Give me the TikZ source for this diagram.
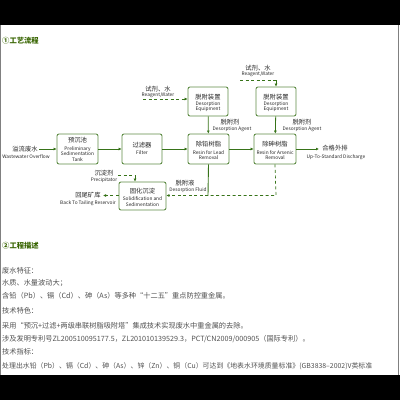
\documentclass[tikz,border=0pt]{standalone}
\usepackage{fontspec}
\setmainfont{Noto Sans CJK SC}
\usetikzlibrary{arrows.meta}
\definecolor{gbox}{RGB}{95,140,70}
\definecolor{garr}{RGB}{55,115,25}
\definecolor{ghead}{RGB}{55,100,0}
\definecolor{txt}{RGB}{80,80,80}
\begin{document}
\begin{tikzpicture}[x=1pt,y=-1pt,
  box/.style={draw=gbox, line width=0.9pt, rounded corners=2pt, fill=white, inner sep=0pt},
  zh/.style={font=\fontsize{6.3}{7}\selectfont, inner sep=0pt, text=black!85},
  en/.style={font=\fontsize{4.8}{5.6}\selectfont, inner sep=0pt, align=center, text=black!85},
  arr/.style={draw=garr, line width=0.8pt, -{Latex[length=3pt,width=3pt]}},
  dsh/.style={draw=garr, line width=0.7pt, dash pattern=on 3pt off 2.5pt},
  darr/.style={dsh, -{Latex[length=3pt,width=3pt]}},
  body/.style={font=\fontsize{7.2}{8}\selectfont, text=txt, anchor=west, inner sep=0pt},
  head/.style={font=\fontsize{7.3}{8}\selectfont\bfseries, text=ghead, anchor=west, inner sep=0pt},
]
\useasboundingbox (0,0) rectangle (400,400);
% headers and body text
\node[head] (h1) at (2,41) {①工艺流程};
\node[head] (h2) at (2,246) {②工程描述};
\node[body] (b1) at (2,271) {废水特征：};
\node[body] (b2) at (2,283) {水质、水量波动大；};
\node[body] (b3) at (2,296) {含铅（Pb）、镉（Cd）、砷（As）等多种“十二五”重点防控重金属。};
\node[body] (b4) at (2,311) {技术特色：};
\node[body] (b5) at (2,326) {采用“预沉+过滤+两级串联树脂吸附塔”集成技术实现废水中重金属的去除。};
\node[body] (b6) at (2,339) {涉及发明专利号ZL200510095177.5，ZL201010139529.3，PCT/CN2009/000905（国际专利）。};
\node[body] (b7) at (2,352) {技术指标：};
\node[body, font=\fontsize{6.9}{8}\selectfont] (b8) at (2,366) {处理出水铅（Pb）、镉（Cd）、砷（As）、锌（Zn）、铜（Cu）可达到《地表水环境质量标准》(GB3838--2002)V类标准};
% frame
\fill[black] (0,0) rectangle (400,25);
\fill[black] (0,375) rectangle (400,400);
\draw[gray, line width=1pt] (0.5,25) -- (0.5,375);
\draw[gray, line width=1pt] (398.5,25) -- (398.5,375);

% boxes
\node[box, minimum width=41pt, minimum height=30pt] (prelim) at (77.5,149) {};
\node[box, minimum width=40pt, minimum height=30pt] (filter) at (142,149) {};
\node[box, minimum width=41pt, minimum height=30pt] (lead) at (208.5,149) {};
\node[box, minimum width=42pt, minimum height=30pt] (arsen) at (275,149) {};
\node[box, minimum width=47pt, minimum height=28pt] (solid) at (142.5,196) {};
\node[box, minimum width=40pt, minimum height=29pt] (des1) at (208,101.5) {};
\node[box, minimum width=40pt, minimum height=29pt] (des2) at (276,101.5) {};

% box texts
\node[zh] (tp1) at (77.5,140) {预沉池};
\node[en] (tp2) at (77.5,154) {Preliminary\\Sedimentation\\Tank};
\node[zh] (tf1) at (142,145) {过滤器};
\node[en] (tf2) at (142,153) {Filter};
\node[zh] (tl1) at (208.5,144) {除铅树脂};
\node[en] (tl2) at (208.5,155) {Resin for Lead\\Removal};
\node[zh] (ta1) at (275,144) {除砷树脂};
\node[en] (ta2) at (275,155) {Resin for Arsenic\\Removal};
\node[zh] (ts1) at (142.5,191) {固化沉淀};
\node[en] (ts2) at (142.5,201.5) {Solidification and\\Sedimentation};
\node[zh] (td1) at (208,97) {脱附装置};
\node[en] (td2) at (208,106.5) {Desorption\\Equipment};
\node[zh] (te1) at (276,97) {脱附装置};
\node[en] (te2) at (276,106.5) {Desorption\\Equipment};

% outside labels
\node[zh] (ww1) at (25,149) {溢流废水};
\node[en] (ww2) at (26,157) {Wastewater Overflow};
\node[zh] (ok1) at (335,148) {合格外排};
\node[en] (ok2) at (336,157) {Up-To-Standard Discharge};
\node[zh] (ra1) at (158,89) {试剂、水};
\node[en] (ra2) at (158,95) {Reagent,Water};
\node[zh] (rb1) at (258,68) {试剂、水};
\node[en] (rb2) at (258,74.5) {Reagent,Water};
\node[zh] (da1) at (230,122.5) {脱附剂};
\node[en] (da2) at (232,129.5) {Desorption Agent};
\node[zh] (db1) at (302,122.5) {脱附剂};
\node[en] (db2) at (302,129.5) {Desorption Agent};
\node[zh] (pr1) at (104,173) {沉淀剂};
\node[en] (pr2) at (104,180.5) {Precipitator};
\node[zh] (fl1) at (185,183) {脱附液};
\node[en] (fl2) at (188,190.5) {Desorption Fluid};
\node[zh] (bk1) at (88,195.5) {回尾矿库};
\node[en] (bk2) at (88,203.5) {Back To Tailing Reservoir};

% coordinates
\coordinate (wwe) at (39,149);
\coordinate (oke) at (319,149);
\coordinate (ras) at (143,99);
\coordinate (rbs) at (240,80);
\coordinate (prs) at (118,175);
\coordinate (prc) at (135,175);
\coordinate (jl) at (208,195.5);
\coordinate (ja) at (276,195.5);
\coordinate (bke) at (103,195.5);

% connectors
\draw[arr] (wwe) -- (prelim.west);
\draw[arr] (prelim) -- (filter);
\draw[arr] (filter) -- (lead);
\draw[arr] (lead) -- (arsen);
\draw[arr] (arsen) -- (oke);
\draw[arr] (des1) -- (lead);
\draw[arr] (des2) -- (arsen);
\draw[darr] (ras) -- (ras -| des1.west);
\draw[dsh] (rbs) -- (rbs -| des2.north);
\draw[arr] (rbs -| des2.north) -- (des2.north);
\draw[dsh] (prs) -- (prc);
\draw[arr] (prc) -- (prc |- solid.north);
\draw[draw=garr, line width=0.9pt] (lead.south) -- (jl);
\draw[dsh] (arsen.south) -- (ja) -- (jl);
\draw[darr] (jl) -- (jl -| solid.east);
\draw[darr] (solid.west |- bke) -- (bke);
\end{tikzpicture}
\end{document}
